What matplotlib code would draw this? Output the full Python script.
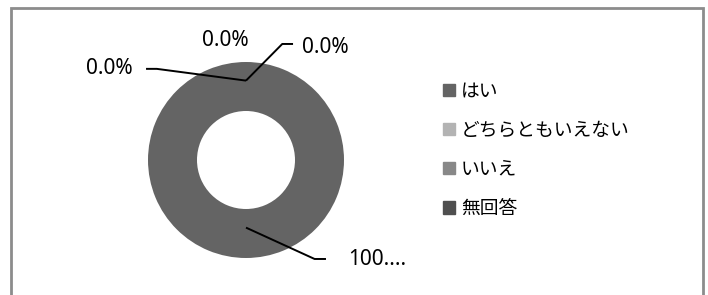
import numpy as np
import matplotlib
matplotlib.use("Agg")
import matplotlib.pyplot as plt
from matplotlib.patches import Rectangle

plt.rcParams['font.family'] = ['Noto Sans CJK JP', 'DejaVu Sans']

categories = ['はい', 'どちらともいえない', 'いいえ', '無回答']
values = [100.0, 0.0, 0.0, 0.0]
labels = ['100....', '0.0%', '0.0%', '0.0%']
colors = ['#646464', '#b3b3b3', '#888888', '#4f4f4f']

W, H = 708, 295
cx, cy, R = 246, 160, 98   # pixel centre / radius of the ring

fig = plt.figure(figsize=(W / 100, H / 100), dpi=100)
ax = fig.add_axes([0, 0, 1, 1])

wedges, _ = ax.pie(values, colors=colors, startangle=90, counterclock=False,
                   wedgeprops=dict(width=0.5, linewidth=0))
ax.set_aspect('auto')
ax.set_xlim(-cx / R, (W - cx) / R)
ax.set_ylim(-(H - cy) / R, cy / R)
ax.axis('off')

# (leader start radius, text anchor, kink, line end, alignment)
label_pos = [
    (0.69, (1.04, -1.02), (0.70, -1.01), (0.816, -1.01), 'left'),
    (0.81, (-1.16, 0.93), (-0.91, 0.93), (-1.02, 0.93), 'right'),
    (0.81, (-0.21, 1.22), None, None, 'center'),
    (0.81, (0.57, 1.15), (0.37, 1.184), (0.48, 1.184), 'left'),
]
for w, lab, (r0, tpos, kink, end, ha) in zip(wedges, labels, label_pos):
    th = np.deg2rad((w.theta1 + w.theta2) / 2)
    sx, sy = r0 * np.cos(th), r0 * np.sin(th)
    if kink is not None:
        ax.plot([sx, kink[0], end[0]], [sy, kink[1], end[1]], color='black',
                lw=1.4, solid_capstyle='butt')
    ax.text(tpos[0], tpos[1], lab, ha=ha, va='center', fontsize=15,
            family=['Noto Sans', 'DejaVu Sans'], color='black')

handles = [Rectangle((0, 0), 1, 1, color=c) for c in colors]
leg = ax.legend(handles, categories, loc='upper left',
                bbox_to_anchor=(435.5 / W, 1 - 73 / H), frameon=False,
                fontsize=13.5, handlelength=0.64, handleheight=0.64,
                handletextpad=0.32, labelspacing=0.97, borderaxespad=0)

fig.patches.append(Rectangle((11 / W, -0.1), 692 / W, 1.1 - 8 / H,
                             transform=fig.transFigure, fill=False,
                             edgecolor='#8c8c8c', lw=2))

fig.savefig('out.png', dpi=100)
